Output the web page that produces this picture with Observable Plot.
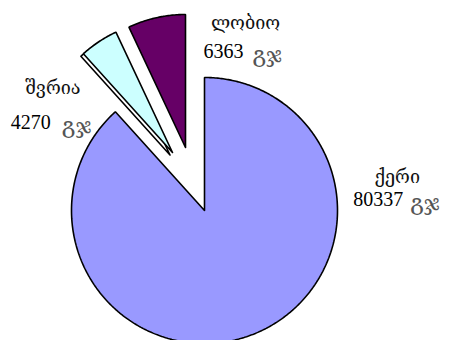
<!DOCTYPE html>
<html>
<head>
<meta charset="utf-8">
<script src="https://cdn.jsdelivr.net/npm/d3@7"></script>
<script src="https://cdn.jsdelivr.net/npm/@observablehq/plot@0.6"></script>
<style>
  html, body { margin: 0; padding: 0; background: #fff; }
  #chart svg { display: block; }
</style>
</head>
<body>
<div id="chart"></div>
<script>
// ---- data ----
const crops = ["ქერი", "შვრია", "ლობიო"];
const areas = [80337, 4270, 6363];
const unit = "გჯ";

// ---- styles / layout ----
const colors = ["#9999ff", "#ccffff", "#660066"];
const W = 449, H = 340;
const R = 133;            // pie radius in px
const CX = 204, CY = 210; // pie centre in px
// explode offsets (px) for each slice
const explode = [[0, 0], [-32, -58], [-19, -63]];
// label offsets (px) from each slice's outer mid-arc point: name centre, number start, unit start
const labelOff = [
  {name: [145, -152], num: [101, -129], unit: [158, -125]},
  {name: [-46, 52],   num: [-88, 87],   unit: [-37, 91]},
  {name: [89, 11],    num: [47, 40],    unit: [96, 44]}
];

const pie = d3.pie().sort(null).value(d => d)(areas);

// data units: 1 = radius, y up
const slices = pie.map((p, i) => {
  const ox = explode[i][0] / R, oy = -explode[i][1] / R;
  const pts = [{x: ox, y: oy}];
  const n = Math.max(8, Math.ceil((p.endAngle - p.startAngle) / 0.01));
  for (let k = 0; k <= n; k++) {
    const a = p.startAngle + (p.endAngle - p.startAngle) * k / n;
    pts.push({x: ox + Math.sin(a), y: oy + Math.cos(a)});
  }
  pts.push({x: ox, y: oy});
  const mid = (p.startAngle + p.endAngle) / 2;
  return {i, pts, ax: ox + Math.sin(mid), ay: oy + Math.cos(mid)};
});

const labels = slices.map(s => {
  const o = labelOff[s.i];
  return {
    name: crops[s.i], num: String(areas[s.i]), unit,
    nx: s.ax + o.name[0] / R, ny: s.ay - o.name[1] / R,
    vx: s.ax + o.num[0] / R, vy: s.ay - o.num[1] / R,
    ux: s.ax + o.unit[0] / R, uy: s.ay - o.unit[1] / R
  };
});

const marks = [];
// shadow outline of the oats slice (double edge in the original)
marks.push(Plot.line(slices[1].pts, {x: "x", y: "y", stroke: "#000", strokeWidth: 1.6, fill: "none", dx: -2.5, dy: 2.5}));
for (const s of slices) {
  marks.push(Plot.line(s.pts, {x: "x", y: "y", fill: colors[s.i], stroke: "#000", strokeWidth: 1.6, strokeLinejoin: "miter"}));
}
const serif = "'Liberation Serif', 'DejaVu Serif', 'DejaVu Sans', serif";
marks.push(Plot.text(labels, {x: "nx", y: "ny", text: "name", textAnchor: "middle", lineAnchor: "bottom", fontSize: 18, fontFamily: serif, fontWeight: 300, fill: "#111"}));
marks.push(Plot.text(labels, {x: "vx", y: "vy", text: "num", textAnchor: "start", lineAnchor: "bottom", fontSize: 20, fontFamily: serif, fill: "#000"}));
marks.push(Plot.text(labels, {x: "ux", y: "uy", text: "unit", textAnchor: "start", lineAnchor: "bottom", fontSize: 23, fontFamily: serif, fontWeight: 300, fill: "#555"}));

const chart = Plot.plot({
  width: W, height: H,
  margin: 0,
  x: {domain: [(0 - CX) / R, (W - CX) / R], range: [0, W], axis: null},
  y: {domain: [(CY - H) / R, CY / R], range: [H, 0], axis: null},
  style: {background: "#fff", overflow: "hidden"},
  marks
});
document.getElementById("chart").appendChild(chart);
</script>
</body>
</html>
